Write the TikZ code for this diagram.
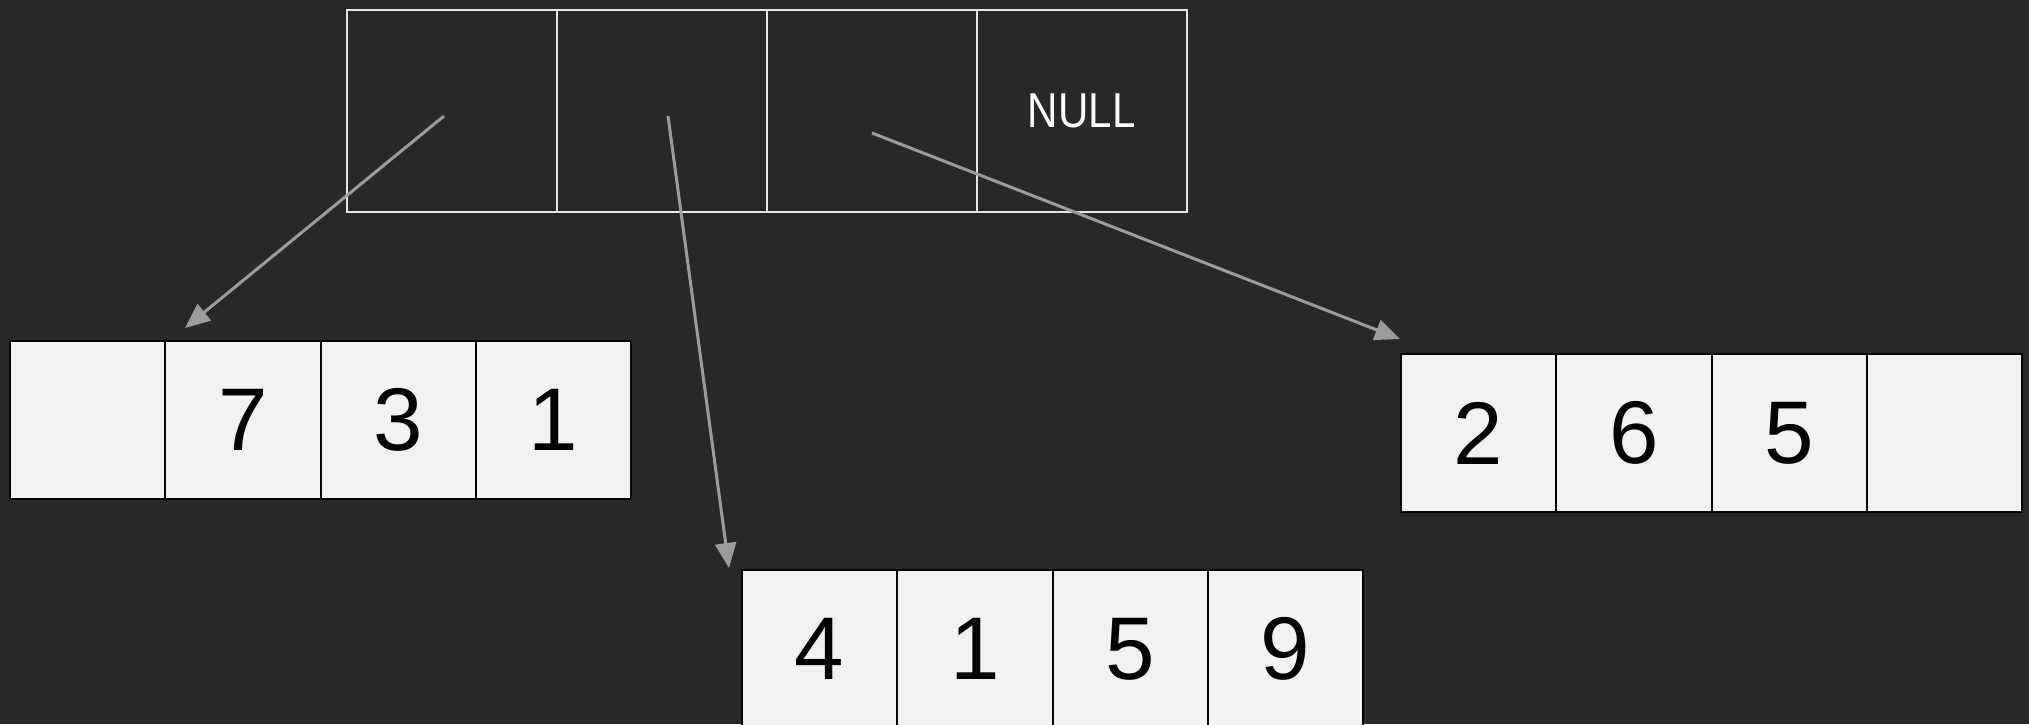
\documentclass[tikz,border=0pt]{standalone}
\usepackage{fontspec}
\setmainfont{Liberation Sans}
\usetikzlibrary{arrows.meta}
\definecolor{bg}{HTML}{282828}
\definecolor{topline}{HTML}{E6E6E6}
\definecolor{cellfill}{HTML}{F2F2F2}
\definecolor{arrowc}{HTML}{9C9C9C}
\tikzset{
  topcell/.style={draw=topline, line width=1.6pt, minimum width=210pt, minimum height=202pt, inner sep=0pt, anchor=north west, text=white},
  arrcell/.style={draw=black, fill=cellfill, line width=2pt, minimum width=155.25pt, minimum height=158pt, inner sep=0pt, anchor=north west, font=\fontsize{89}{89}\selectfont, text=black},
  ptr/.style={draw=arrowc, line width=3pt, -{Triangle[length=25pt, width=21pt]}},
}
\begin{document}
\begin{tikzpicture}[x=1pt, y=-1pt]
\useasboundingbox (0,0) rectangle (2029,724);
\fill[bg] (0,0) rectangle (2029,724);
\clip (0,0) rectangle (2029,724);
% top array
\node[topcell] (t1) at (346,9) {};
\node[topcell] (t2) at (556,9) {};
\node[topcell] (t3) at (766,9) {};
\node[topcell, font=\fontsize{49}{49}\selectfont] (t4) at (976,9) {\scalebox{0.86}[1]{NULL}};
% left array
\node[arrcell] (a1) at (9,340) {};
\node[arrcell] (a2) at (164.25,340) {7};
\node[arrcell] (a3) at (319.5,340) {3};
\node[arrcell] (a4) at (474.75,340) {1};
% bottom array
\node[arrcell] (b1) at (741,569) {4};
\node[arrcell] (b2) at (896.25,569) {1};
\node[arrcell] (b3) at (1051.5,569) {5};
\node[arrcell] (b4) at (1206.75,569) {9};
% right array
\node[arrcell] (c1) at (1400,353) {2};
\node[arrcell] (c2) at (1555.25,353) {6};
\node[arrcell] (c3) at (1710.5,353) {5};
\node[arrcell] (c4) at (1865.75,353) {};
% pointer endpoints
\coordinate (s1) at (444,116);
\coordinate (s2) at (668,116);
\coordinate (s3) at (872,133);
\coordinate (e1) at (185,328);
\coordinate (e2) at (729,568);
\coordinate (e3) at (1400,339);
\draw[ptr] (s1) -- (e1);
\draw[ptr] (s2) -- (e2);
\draw[ptr] (s3) -- (e3);
\end{tikzpicture}
\end{document}
